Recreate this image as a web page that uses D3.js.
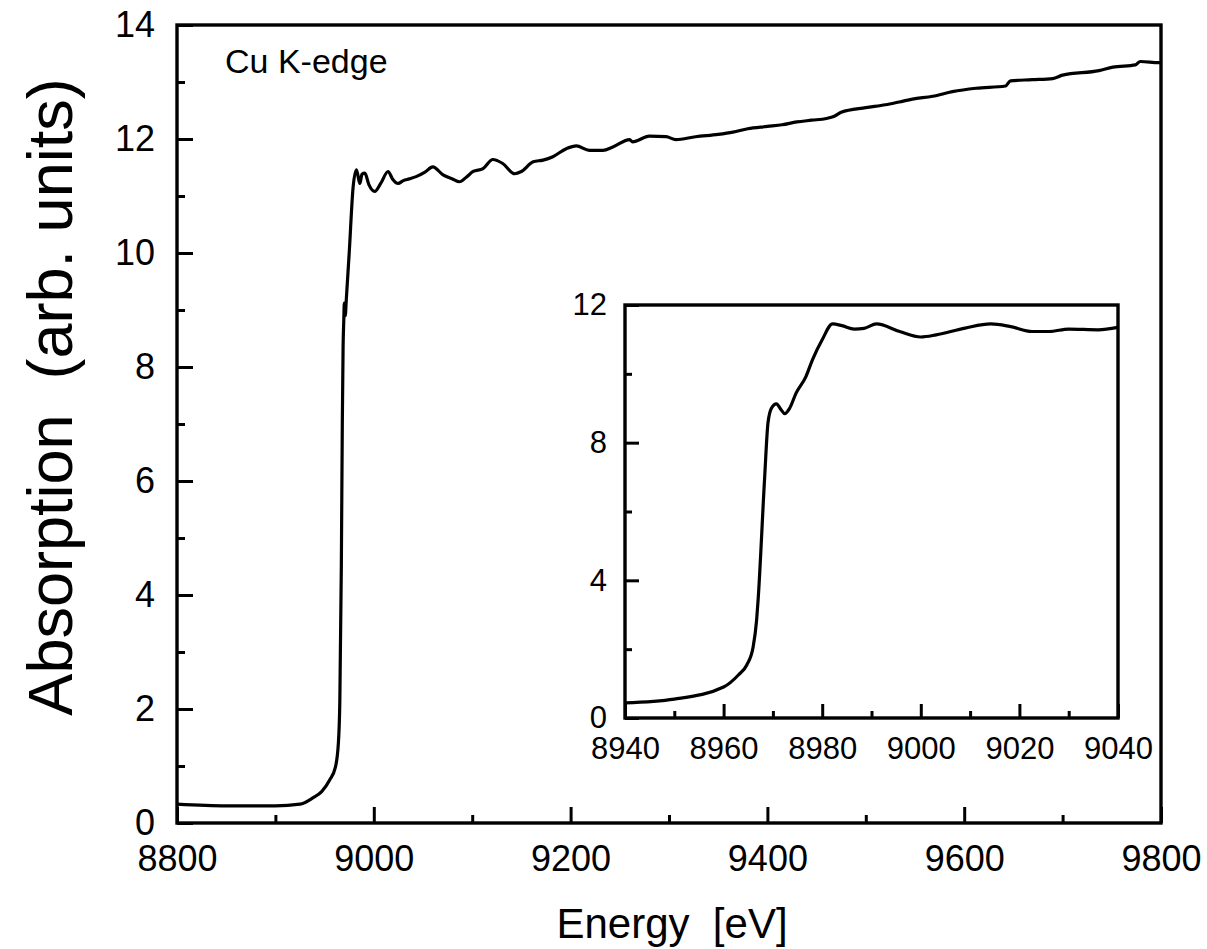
<!DOCTYPE html>
<html>
<head>
<meta charset="utf-8">
<script src="https://cdn.jsdelivr.net/npm/d3@7"></script>
<style>
  body { margin: 0; background: #fff; }
  svg { display: block; }
</style>
</head>
<body>
<svg id="chart"></svg>
<script>
// Cu K-edge absorption spectrum
const mainEnergy = [8800, 8850, 8900, 8925, 8938, 8947, 8955, 8961, 8964, 8965.5, 8967, 8968, 8968.8, 8969.5, 8970, 8971, 8972,
  8975, 8979, 8982.4, 8985.8, 8988, 8990.9, 8995, 9001, 9007, 9014.5, 9019, 9024.7, 9030, 9036, 9043, 9052, 9060, 9070.4, 9080, 9087,
  9094, 9101, 9111, 9121, 9131, 9143, 9150, 9162, 9172, 9182, 9195.6, 9205.8, 9219, 9232.8, 9243, 9260, 9263, 9280, 9297, 9307, 9327,
  9350, 9365, 9380, 9400, 9415, 9430, 9445, 9460, 9468, 9475, 9500, 9520, 9534, 9547.5, 9568, 9588, 9612, 9642, 9647, 9669, 9690, 9700,
  9737, 9751, 9774, 9779, 9798, 9800]
const mainAbs = [0.33, 0.30, 0.30, 0.33, 0.44, 0.55, 0.75, 0.98, 1.4, 2.16, 4.5, 7.0, 8.36, 8.82, 9.12, 8.9, 9.17,
  10.0, 11.16, 11.46, 11.22, 11.38, 11.4, 11.2, 11.08, 11.22, 11.43, 11.3, 11.22, 11.27, 11.3, 11.34, 11.42, 11.51, 11.37, 11.3, 11.25,
  11.33, 11.43, 11.48, 11.64, 11.57, 11.39, 11.43, 11.6, 11.63, 11.69, 11.83, 11.88, 11.8, 11.8, 11.86, 11.99, 11.95, 12.05, 12.04, 11.99, 12.04,
  12.08, 12.12, 12.18, 12.22, 12.25, 12.3, 12.33, 12.36, 12.4, 12.47, 12.55, 12.6, 12.65, 12.7, 12.75, 12.83, 12.89, 12.93, 13.02, 13.04, 13.06,
  13.12, 13.2, 13.26, 13.3, 13.36, 13.34, 13.34]

const insetEnergy = [8940, 8950, 8960, 8963, 8964.7, 8966, 8966.7, 8967, 8968.3, 8969, 8969.7, 8970.7, 8971.7, 8972.4, 8973.4, 8974.7,
  8976.7, 8978, 8980, 8982.1, 8984, 8986.5, 8988.5, 8991, 8995.7, 9000, 9003.1, 9009, 9014.2, 9018, 9022.6, 9026, 9030, 9036, 9040]
const insetAbs = [0.44, 0.55, 0.9, 1.25, 1.54, 2.07, 2.85, 3.43, 6.92, 8.57, 9.0, 9.13, 8.95, 8.84, 9.0, 9.44,
  9.92, 10.4, 10.99, 11.45, 11.4, 11.3, 11.32, 11.45, 11.23, 11.07, 11.13, 11.33, 11.45, 11.38, 11.23, 11.23, 11.3, 11.28, 11.35]

const mainXTicks = [8800, 9000, 9200, 9400, 9600, 9800]
const mainXMinor = [8900, 9100, 9300, 9500, 9700]
const mainYTicks = [0, 2, 4, 6, 8, 10, 12, 14]
const mainYMinor = [1, 3, 5, 7, 9, 11, 13]
const insetXTicks = [8940, 8960, 8980, 9000, 9020, 9040]
const insetXMinor = [8950, 8970, 8990, 9010, 9030]
const insetYTicks = [0, 4, 8, 12]
const insetYMinor = [2, 6, 10]

const width = 1207
const height = 949
const font = '"Liberation Sans", Arial, sans-serif'

const svg = d3.select('#chart')
  .attr('width', width)
  .attr('height', height)

// draws one framed panel with inside ticks
function panel (box, xDomain, yDomain, ticks, sizes, energy, values) {
  const x = d3.scaleLinear().domain(xDomain).range([box.left, box.right])
  const y = d3.scaleLinear().domain(yDomain).range([box.bottom, box.top])
  const g = svg.append('g')

  g.append('rect')
    .attr('x', box.left)
    .attr('y', box.top)
    .attr('width', box.right - box.left)
    .attr('height', box.bottom - box.top)
    .attr('fill', '#fff')

  const xAxis = g.append('g')
    .attr('transform', `translate(0,${box.bottom})`)
    .call(d3.axisBottom(x).tickValues(ticks.xMajor).tickSize(-sizes.major).tickPadding(sizes.xPad).tickFormat(d3.format('d')))
  const xMinor = g.append('g')
    .attr('transform', `translate(0,${box.bottom})`)
    .call(d3.axisBottom(x).tickValues(ticks.xMinor).tickSize(-sizes.minor).tickFormat(''))
  const yAxis = g.append('g')
    .attr('transform', `translate(${box.left},0)`)
    .call(d3.axisLeft(y).tickValues(ticks.yMajor).tickSize(-sizes.major).tickPadding(sizes.yPad).tickFormat(d3.format('d')))
  const yMinor = g.append('g')
    .attr('transform', `translate(${box.left},0)`)
    .call(d3.axisLeft(y).tickValues(ticks.yMinor).tickSize(-sizes.minor).tickFormat(''))

  for (const a of [xAxis, xMinor, yAxis, yMinor]) {
    a.select('.domain').remove()
    a.selectAll('line').attr('stroke', '#000').attr('stroke-width', 3)
    a.selectAll('text')
      .attr('fill', '#000')
      .style('font-family', font)
      .style('font-size', sizes.font + 'px')
  }

  const line = d3.line()
    .x((d, i) => x(energy[i]))
    .y(d => y(d))
    .curve(d3.curveMonotoneX)

  g.append('path')
    .datum(values)
    .attr('d', line)
    .attr('fill', 'none')
    .attr('stroke', '#000')
    .attr('stroke-width', 3.2)
    .attr('stroke-linejoin', 'round')

  g.append('rect')
    .attr('x', box.left)
    .attr('y', box.top)
    .attr('width', box.right - box.left)
    .attr('height', box.bottom - box.top)
    .attr('fill', 'none')
    .attr('stroke', '#000')
    .attr('stroke-width', 3.4)
}

panel({ left: 177, right: 1161, top: 25, bottom: 823 }, [8800, 9800], [0, 14],
  { xMajor: mainXTicks, xMinor: mainXMinor, yMajor: mainYTicks, yMinor: mainYMinor },
  { major: 16, minor: 8, xPad: 22, yPad: 22, font: 36 },
  mainEnergy, mainAbs)

panel({ left: 625, right: 1118, top: 305, bottom: 718 }, [8940, 9040], [0, 12],
  { xMajor: insetXTicks, xMinor: insetXMinor, yMajor: insetYTicks, yMinor: insetYMinor },
  { major: 14, minor: 7, xPad: 19, yPad: 18, font: 31 },
  insetEnergy, insetAbs)

svg.append('text')
  .attr('x', 225)
  .attr('y', 73)
  .style('font-family', font)
  .style('font-size', '34px')
  .text('Cu K-edge')

svg.append('text')
  .attr('x', 672)
  .attr('y', 938)
  .attr('text-anchor', 'middle')
  .style('font-family', font)
  .style('font-size', '42px')
  .style('white-space', 'pre')
  .text('Energy  [eV]')

svg.append('text')
  .attr('transform', 'translate(72,397) rotate(-90)')
  .attr('text-anchor', 'middle')
  .style('font-family', font)
  .style('font-size', '63px')
  .style('white-space', 'pre')
  .text('Absorption  (arb. units)')
</script>
</body>
</html>
